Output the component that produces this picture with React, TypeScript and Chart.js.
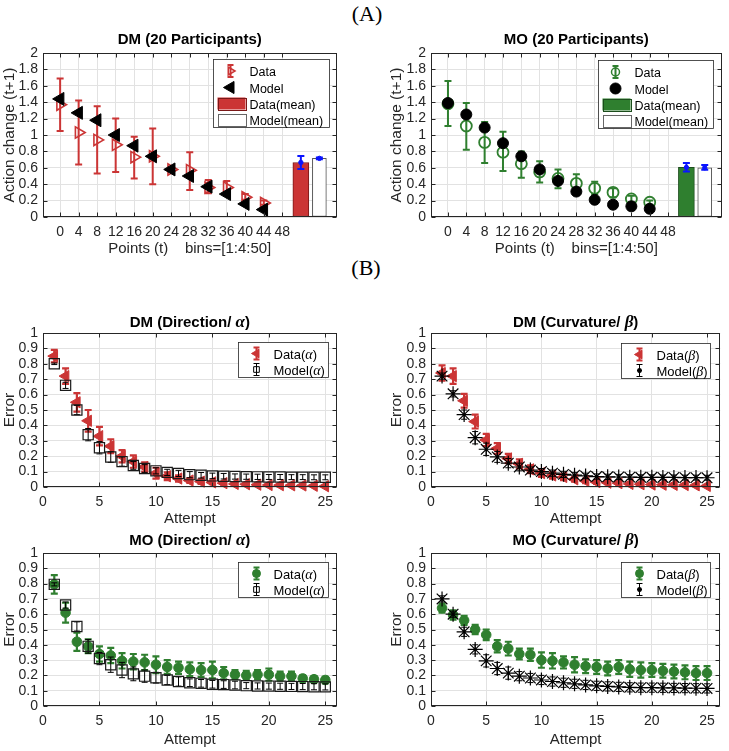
import React, { useEffect, useRef } from 'react';
import { Chart, registerables } from 'chart.js';
Chart.register(...registerables);

const SANS = '"Liberation Sans", Arial, Helvetica, sans-serif';
const SERIF = '"Liberation Serif", "DejaVu Serif", serif';
const RED = '#cb3535';
const RED_DARK = '#7a1818';
const GREEN = '#2f7f2f';
const GREEN_DARK = '#1c4d1c';
const BLUE = '#0a14ff';
const INK = '#262626';
const GRID = '#e2e2e2';

// ---------------- Panel (A) data ----------------
const binTicks = [0, 4, 8, 12, 16, 20, 24, 28, 32, 36, 40, 44, 48];
const binCenters = [0, 4, 8, 12, 16, 20, 24, 28, 32, 36, 40, 44];
const actionTicks = [0, 0.2, 0.4, 0.6, 0.8, 1, 1.2, 1.4, 1.6, 1.8, 2];
const meanPos = [52, 56];

const dmActionData = [1.37, 1.03, 0.94, 0.88, 0.73, 0.74, 0.58, 0.57, 0.36, 0.36, 0.24, 0.17];
const dmActionDataHi = [1.69, 1.42, 1.35, 1.2, 0.98, 1.08, 0.58, 0.79, 0.45, 0.44, 0.28, 0.2];
const dmActionDataLo = [1.05, 0.64, 0.53, 0.55, 0.47, 0.4, 0.58, 0.33, 0.29, 0.3, 0.21, 0.15];
const dmActionModel = [1.44, 1.27, 1.18, 1.0, 0.87, 0.74, 0.58, 0.5, 0.37, 0.28, 0.16, 0.09];
const dmMean = [0.665, 0.715];
const dmMeanLo = [0.585, 0.705];
const dmMeanHi = [0.745, 0.725];

const moActionData = [1.38, 1.11, 0.91, 0.79, 0.65, 0.55, 0.47, 0.41, 0.35, 0.3, 0.22, 0.18];
const moActionDataHi = [1.66, 1.39, 1.16, 1.04, 0.8, 0.68, 0.58, 0.52, 0.43, 0.35, 0.26, 0.2];
const moActionDataLo = [1.11, 0.82, 0.66, 0.56, 0.48, 0.42, 0.35, 0.32, 0.28, 0.24, 0.18, 0.15];
const moActionModel = [1.39, 1.25, 1.09, 0.9, 0.74, 0.58, 0.44, 0.31, 0.21, 0.15, 0.13, 0.1];
const moMean = [0.605, 0.6];
const moMeanLo = [0.555, 0.575];
const moMeanHi = [0.66, 0.635];

// ---------------- Panel (B) data ----------------
const attempts = [1, 2, 3, 4, 5, 6, 7, 8, 9, 10, 11, 12, 13, 14, 15, 16, 17, 18, 19, 20, 21, 22, 23, 24, 25];
const attemptTicks = [0, 5, 10, 15, 20, 25];
const errorTicks = [0, 0.1, 0.2, 0.3, 0.4, 0.5, 0.6, 0.7, 0.8, 0.9, 1];

const dmAlphaData = [0.85, 0.72, 0.55, 0.43, 0.33, 0.265, 0.2, 0.165, 0.13, 0.09, 0.07, 0.055, 0.042, 0.035, 0.03, 0.025, 0.02, 0.018, 0.015, 0.013, 0.012, 0.011, 0.01, 0.008, 0.005];
const dmAlphaDataErr = [0.04, 0.05, 0.06, 0.07, 0.06, 0.045, 0.04, 0.04, 0.03, 0.035, 0.025, 0.02, 0.015, 0.015, 0.012, 0.01, 0.01, 0.008, 0.008, 0.007, 0.006, 0.006, 0.005, 0.005, 0.004];
const dmAlphaModel = [0.8, 0.66, 0.5, 0.34, 0.255, 0.195, 0.165, 0.14, 0.12, 0.105, 0.095, 0.088, 0.08, 0.076, 0.072, 0.07, 0.068, 0.067, 0.066, 0.065, 0.065, 0.064, 0.064, 0.063, 0.063];
const dmAlphaModelErr = [0.005, 0.02, 0.03, 0.04, 0.04, 0.035, 0.03, 0.025, 0.025, 0.02, 0.02, 0.02, 0.02, 0.018, 0.018, 0.018, 0.017, 0.017, 0.017, 0.016, 0.016, 0.016, 0.016, 0.016, 0.016];

const dmBetaData = [0.74, 0.72, 0.56, 0.425, 0.305, 0.25, 0.185, 0.15, 0.115, 0.09, 0.075, 0.065, 0.05, 0.04, 0.032, 0.028, 0.025, 0.02, 0.018, 0.016, 0.015, 0.014, 0.013, 0.011, 0.007];
const dmBetaDataErr = [0.05, 0.05, 0.045, 0.045, 0.04, 0.035, 0.03, 0.03, 0.025, 0.025, 0.02, 0.02, 0.015, 0.015, 0.012, 0.01, 0.01, 0.008, 0.008, 0.007, 0.007, 0.006, 0.006, 0.005, 0.005];
const dmBetaModel = [0.72, 0.605, 0.47, 0.32, 0.245, 0.195, 0.155, 0.13, 0.11, 0.1, 0.09, 0.082, 0.077, 0.072, 0.068, 0.066, 0.065, 0.064, 0.063, 0.063, 0.062, 0.062, 0.061, 0.061, 0.06];
const dmBetaModelErr = [0.02, 0.02, 0.03, 0.04, 0.04, 0.035, 0.03, 0.025, 0.02, 0.02, 0.02, 0.02, 0.018, 0.018, 0.017, 0.017, 0.017, 0.016, 0.016, 0.016, 0.016, 0.016, 0.016, 0.016, 0.016];

const moAlphaData = [0.795, 0.61, 0.42, 0.39, 0.34, 0.33, 0.295, 0.29, 0.285, 0.27, 0.255, 0.25, 0.24, 0.235, 0.235, 0.215, 0.205, 0.2, 0.205, 0.205, 0.195, 0.195, 0.18, 0.175, 0.17];
const moAlphaDataErr = [0.06, 0.065, 0.06, 0.045, 0.05, 0.05, 0.05, 0.05, 0.05, 0.055, 0.045, 0.04, 0.045, 0.045, 0.055, 0.04, 0.03, 0.03, 0.03, 0.04, 0.03, 0.03, 0.02, 0.02, 0.02];
const moAlphaModel = [0.795, 0.66, 0.52, 0.39, 0.31, 0.27, 0.235, 0.21, 0.195, 0.185, 0.17, 0.16, 0.152, 0.148, 0.142, 0.14, 0.137, 0.133, 0.131, 0.13, 0.129, 0.128, 0.127, 0.126, 0.125];
const moAlphaModelErr = [0.01, 0.02, 0.03, 0.045, 0.04, 0.05, 0.05, 0.045, 0.04, 0.035, 0.03, 0.03, 0.025, 0.025, 0.025, 0.025, 0.025, 0.02, 0.02, 0.02, 0.02, 0.02, 0.02, 0.02, 0.02];

const moBetaData = [0.64, 0.595, 0.56, 0.5, 0.465, 0.39, 0.375, 0.34, 0.335, 0.3, 0.295, 0.285, 0.27, 0.26, 0.255, 0.245, 0.255, 0.24, 0.235, 0.235, 0.23, 0.225, 0.22, 0.215, 0.215];
const moBetaDataErr = [0.03, 0.03, 0.03, 0.03, 0.035, 0.04, 0.045, 0.035, 0.04, 0.05, 0.05, 0.04, 0.05, 0.045, 0.045, 0.045, 0.045, 0.05, 0.05, 0.045, 0.045, 0.045, 0.045, 0.045, 0.045];
const moBetaModel = [0.7, 0.6, 0.485, 0.37, 0.295, 0.245, 0.215, 0.195, 0.183, 0.17, 0.16, 0.152, 0.145, 0.138, 0.132, 0.128, 0.125, 0.122, 0.12, 0.12, 0.119, 0.118, 0.117, 0.116, 0.115];
const moBetaModelErr = [0.02, 0.02, 0.03, 0.03, 0.04, 0.04, 0.04, 0.03, 0.03, 0.03, 0.03, 0.03, 0.03, 0.03, 0.03, 0.03, 0.03, 0.03, 0.03, 0.03, 0.03, 0.03, 0.03, 0.03, 0.03];

// ---------------- helpers ----------------
type Seg = { t: string; f: string };

const pts = (xs: number[], ys: number[]) => xs.map((x, i) => ({ x, y: ys[i] }));
const minus = (ys: number[], es: number[]) => ys.map((y, i) => y - es[i]);
const plus = (ys: number[], es: number[]) => ys.map((y, i) => y + es[i]);
const fmt = (v: number) => String(Math.round(v * 10) / 10);

function drawSegs(ctx: CanvasRenderingContext2D, segs: Seg[], x: number, cy: number, align: 'center' | 'left') {
  let total = 0;
  const widths = segs.map((s) => {
    ctx.font = s.f;
    const w = ctx.measureText(s.t).width;
    total += w;
    return w;
  });
  let cx = align === 'center' ? x - total / 2 : x;
  ctx.textAlign = 'left';
  ctx.textBaseline = 'alphabetic';
  segs.forEach((s, i) => {
    ctx.font = s.f;
    ctx.fillText(s.t, cx, cy + 5);
    cx += widths[i];
  });
}

function marker(ctx: CanvasRenderingContext2D, shape: string, x: number, y: number, r: number, stroke: string, fill: string | null, lw: number) {
  ctx.save();
  ctx.lineWidth = lw;
  ctx.strokeStyle = stroke;
  ctx.beginPath();
  if (shape === 'circle') {
    ctx.arc(x, y, r, 0, Math.PI * 2);
  } else if (shape === 'triR' || shape === 'triL') {
    const d = shape === 'triR' ? 1 : -1;
    ctx.moveTo(x + d * r, y);
    ctx.lineTo(x - (d * r) / 2, y - r * 0.866);
    ctx.lineTo(x - (d * r) / 2, y + r * 0.866);
    ctx.closePath();
  } else if (shape === 'square') {
    const s = r * Math.SQRT1_2;
    ctx.rect(x - s, y - s, 2 * s, 2 * s);
  } else if (shape === 'star') {
    const s = r * Math.SQRT1_2;
    ctx.moveTo(x - r, y); ctx.lineTo(x + r, y);
    ctx.moveTo(x, y - r); ctx.lineTo(x, y + r);
    ctx.moveTo(x - s, y - s); ctx.lineTo(x + s, y + s);
    ctx.moveTo(x - s, y + s); ctx.lineTo(x + s, y - s);
  }
  if (fill && shape !== 'star') {
    ctx.fillStyle = fill;
    ctx.fill();
  }
  ctx.stroke();
  ctx.restore();
}

function errbar(ctx: CanvasRenderingContext2D, x: number, y1: number, y2: number, cap: number, color: string, lw: number) {
  ctx.save();
  ctx.strokeStyle = color;
  ctx.lineWidth = lw;
  ctx.beginPath();
  ctx.moveTo(x, y1); ctx.lineTo(x, y2);
  ctx.moveTo(x - cap, y1); ctx.lineTo(x + cap, y1);
  ctx.moveTo(x - cap, y2); ctx.lineTo(x + cap, y2);
  ctx.stroke();
  ctx.restore();
}

function drawDatasetErrors(chart: any, index: number) {
  const ds = chart.data.datasets[index];
  if (!ds.errLo) return;
  const xs = chart.scales.x;
  const ys = chart.scales.y;
  const ctx = chart.ctx;
  ds.data.forEach((p: any, i: number) => {
    const px = xs.getPixelForValue(p.x);
    const lo = ys.getPixelForValue(ds.errLo[i]);
    const hi = ys.getPixelForValue(ds.errHi[i]);
    errbar(ctx, px, lo, hi, ds.errCap, ds.errColor, ds.errWidth);
    if (ds.errDot) marker(ctx, 'circle', px, ys.getPixelForValue(p.y), 2.2, ds.errColor, ds.errColor, 1);
  });
}

function drawIcon(ctx: CanvasRenderingContext2D, ic: any, x: number, y: number, boxLeft: number) {
  if (ic.kind === 'rect') {
    ctx.fillStyle = ic.fill;
    ctx.fillRect(boxLeft + 4, y - 6, 28, 12);
    ctx.strokeStyle = ic.stroke;
    ctx.lineWidth = 1;
    ctx.strokeRect(Math.round(boxLeft + 4) + 0.5, Math.round(y - 6) + 0.5, 28, 12);
    return;
  }
  if (ic.err) errbar(ctx, x, y - ic.err, y + ic.err, ic.cap, ic.errColor, ic.errWidth);
  marker(ctx, ic.shape, x, y, ic.r, ic.stroke, ic.fill, ic.lw);
}

const matlabPlugin = {
  id: 'matlab',
  beforeDatasetDraw(chart: any, args: any) {
    const ds = chart.data.datasets[args.index];
    if (ds.errLo && !ds.errAfter) drawDatasetErrors(chart, args.index);
  },
  afterDatasetDraw(chart: any, args: any) {
    const ds = chart.data.datasets[args.index];
    if (ds.errLo && ds.errAfter) drawDatasetErrors(chart, args.index);
  },
  afterDraw(chart: any) {
    const o = chart.options.plugins.matlab;
    const ctx: CanvasRenderingContext2D = chart.ctx;
    const ca = chart.chartArea;
    const xs = chart.scales.x;
    const ys = chart.scales.y;
    ctx.save();
    const L = Math.round(ca.left) + 0.5;
    const R = Math.round(ca.right) - 0.5;
    const T = Math.round(ca.top) + 0.5;
    const B = Math.round(ca.bottom) - 0.5;
    ctx.strokeStyle = INK;
    ctx.lineWidth = 1;
    ctx.strokeRect(L, T, R - L, B - T);
    ctx.beginPath();
    for (const v of o.xTicks) {
      const px = Math.round(xs.getPixelForValue(v)) + 0.5;
      ctx.moveTo(px, B); ctx.lineTo(px, B - 4);
      ctx.moveTo(px, T); ctx.lineTo(px, T + 4);
    }
    for (const v of o.yTicks) {
      const py = Math.round(ys.getPixelForValue(v)) + 0.5;
      ctx.moveTo(L, py); ctx.lineTo(L + 4, py);
      ctx.moveTo(R, py); ctx.lineTo(R - 4, py);
    }
    ctx.stroke();

    const lg = o.legend;
    const bx = Math.round(ca.right - lg.inset[0] - lg.w) + 0.5;
    const by = Math.round(ca.top + lg.inset[1]) + 0.5;
    ctx.fillStyle = '#ffffff';
    ctx.fillRect(bx, by, lg.w, lg.h);
    ctx.strokeStyle = INK;
    ctx.lineWidth = 0.8;
    ctx.strokeRect(bx, by, lg.w, lg.h);
    lg.rows.forEach((row: any) => {
      const y = by + row.dy;
      drawIcon(ctx, row.icon, bx + lg.iconX, y, bx);
      ctx.fillStyle = '#000';
      drawSegs(ctx, row.segs, bx + lg.textX, y, 'left');
    });

    ctx.fillStyle = '#000';
    drawSegs(ctx, o.title, (ca.left + ca.right) / 2, ca.top - o.titleDy, 'center');
    ctx.restore();
  },
};

function buildConfig(s: any): any {
  return {
    type: 'scatter',
    data: { datasets: s.datasets },
    plugins: [matlabPlugin],
    options: {
      responsive: false,
      maintainAspectRatio: false,
      animation: false,
      devicePixelRatio: 1,
      events: [],
      layout: { padding: { top: 26, right: s.padRight, left: 0, bottom: 0 } },
      plugins: {
        legend: { display: false },
        tooltip: { enabled: false },
        title: { display: false },
        matlab: { title: s.title, titleDy: s.titleDy, legend: s.legend, xTicks: s.xTicks, yTicks: s.yTicks },
      },
      scales: {
        x: {
          type: 'linear',
          min: s.xMin,
          max: s.xMax,
          offset: false,
          afterBuildTicks: (sc: any) => { sc.ticks = s.xTicks.map((v: number) => ({ value: v })); },
          afterFit: (sc: any) => { sc.height = s.xH; },
          grid: { color: GRID, lineWidth: 1, drawTicks: false, offset: false },
          border: { display: false },
          ticks: { color: INK, font: { family: SANS, size: 14 }, padding: 7, autoSkip: false, maxRotation: 0, minRotation: 0, callback: (v: number) => String(v) },
          title: { display: true, text: s.xTitle, color: INK, font: { family: SANS, size: 15 }, padding: { top: 0, bottom: 0 } },
        },
        y: {
          type: 'linear',
          min: 0,
          max: s.yMax,
          afterBuildTicks: (sc: any) => { sc.ticks = s.yTicks.map((v: number) => ({ value: v })); },
          afterFit: (sc: any) => { sc.width = s.yW; },
          grid: { color: GRID, lineWidth: 1, drawTicks: false },
          border: { display: false },
          ticks: { color: INK, font: { family: SANS, size: 14 }, padding: 5, autoSkip: false, callback: (v: number) => fmt(v) },
          title: { display: true, text: s.yTitle, color: INK, font: { family: SANS, size: 15.5 }, padding: { top: 0, bottom: 0 } },
        },
      },
    },
  };
}

function Panel({ spec }: { spec: any }) {
  const ref = useRef<HTMLCanvasElement>(null);
  useEffect(() => {
    const chart = new Chart(ref.current as HTMLCanvasElement, buildConfig(spec));
    return () => chart.destroy();
  }, []);
  return (
    <canvas
      ref={ref}
      width={spec.w}
      height={spec.h}
      style={{ position: 'absolute', left: spec.left, top: spec.top, width: spec.w, height: spec.h }}
    />
  );
}

// ---------------- specs ----------------
const bold14 = `bold 15px ${SANS}`;
const greekTitle = `italic bold 17px ${SERIF}`;
const lgA = `12.5px ${SANS}`;
const lgB = `13px ${SANS}`;
const greekLg = `italic 14px ${SERIF}`;

const colL = { left: 0, w: 345, yW: 43, padRight: 8 };
const colR = { left: 387, w: 342, yW: 44, padRight: 2 };
const rowA = { top: 27, h: 231, xH: 41, titleDy: 14 };
const rowB1 = { top: 307, h: 221, xH: 41, titleDy: 11 };
const rowB2 = { top: 527, h: 222, xH: 43, titleDy: 13 };

const axisA = { xMin: -3.7, xMax: 59.7, xTicks: binTicks, yMax: 2, yTicks: actionTicks, xTitle: 'Points (t)    bins=[1:4:50]', yTitle: 'Action change (t+1)' };
const axisB = { xMin: 0, xMax: 26, xTicks: attemptTicks, yMax: 1, yTicks: errorTicks, xTitle: 'Attempt', yTitle: 'Error' };

function legendA(dataIcon: any, modelIcon: any, meanFill: string, meanStroke: string, inset: number[], w: number) {
  return {
    inset, w, h: 68, iconX: 17, textX: 36,
    rows: [
      { dy: 11.5, icon: dataIcon, segs: [{ t: 'Data', f: lgA }] },
      { dy: 28, icon: modelIcon, segs: [{ t: 'Model', f: lgA }] },
      { dy: 44, icon: { kind: 'rect', fill: meanFill, stroke: meanStroke }, segs: [{ t: 'Data(mean)', f: lgA }] },
      { dy: 60, icon: { kind: 'rect', fill: '#ffffff', stroke: '#666666' }, segs: [{ t: 'Model(mean)', f: lgA }] },
    ],
  };
}

function legendB(greek: string, dataIcon: any, modelIcon: any, inset: number[], w: number) {
  return {
    inset, w, h: 35, iconX: 18, textX: 35,
    rows: [
      { dy: 11, icon: dataIcon, segs: [{ t: 'Data(', f: lgB }, { t: greek, f: greekLg }, { t: ')', f: lgB }] },
      { dy: 27, icon: modelIcon, segs: [{ t: 'Model(', f: lgB }, { t: greek, f: greekLg }, { t: ')', f: lgB }] },
    ],
  };
}

function meanBars(vals: number[], lo: number[], hi: number[], fill: string, stroke: string) {
  return [
    {
      type: 'bar', label: 'Data(mean)', data: [{ x: meanPos[0], y: vals[0] }], backgroundColor: fill, borderColor: stroke,
      borderWidth: 1, borderSkipped: false, barThickness: 16, grouped: false, order: 3,
      errLo: [lo[0]], errHi: [hi[0]], errAfter: true, errColor: BLUE, errWidth: 2, errCap: 3.5, errDot: true,
    },
    {
      type: 'bar', label: 'Model(mean)', data: [{ x: meanPos[1], y: vals[1] }], backgroundColor: '#ffffff', borderColor: '#555555',
      borderWidth: 1, borderSkipped: false, barThickness: 14, grouped: false, order: 3,
      errLo: [lo[1]], errHi: [hi[1]], errAfter: true, errColor: BLUE, errWidth: 2, errCap: 3.5, errDot: true,
    },
  ];
}

const specs: any[] = [
  {
    ...colL, ...rowA, ...axisA,
    title: [{ t: 'DM (20 Participants)', f: bold14 }],
    legend: legendA(
      { shape: 'triR', r: 4.5, stroke: RED, fill: null, lw: 1.5, err: 6, cap: 3, errColor: RED, errWidth: 2 },
      { shape: 'triL', r: 7, stroke: '#000', fill: '#000', lw: 1 },
      RED, RED_DARK, [8, 6], 116),
    datasets: [
      { label: 'Model', data: pts(binCenters, dmActionModel), pointStyle: 'triangle', pointRotation: 270, pointRadius: 7.5, pointBackgroundColor: '#000', pointBorderColor: '#000', pointBorderWidth: 1, order: 1, clip: false },
      { label: 'Data', data: pts(binCenters, dmActionData), pointStyle: 'triangle', pointRotation: 90, pointRadius: 6.5, pointBackgroundColor: 'rgba(255,255,255,0)', pointBorderColor: RED, pointBorderWidth: 1.6, order: 2, clip: false, errLo: dmActionDataLo, errHi: dmActionDataHi, errColor: RED, errWidth: 2, errCap: 3.5 },
      ...meanBars(dmMean, dmMeanLo, dmMeanHi, RED, RED_DARK),
    ],
  },
  {
    ...colR, ...rowA, ...axisA,
    title: [{ t: 'MO (20 Participants)', f: bold14 }],
    legend: legendA(
      { shape: 'circle', r: 4, stroke: GREEN, fill: null, lw: 1.5, err: 6, cap: 3, errColor: GREEN, errWidth: 2 },
      { shape: 'circle', r: 5.5, stroke: '#000', fill: '#000', lw: 1 },
      GREEN, GREEN_DARK, [9, 7], 115),
    datasets: [
      { label: 'Model', data: pts(binCenters, moActionModel), pointStyle: 'circle', pointRadius: 5.5, pointBackgroundColor: '#000', pointBorderColor: '#000', pointBorderWidth: 1, order: 1, clip: false },
      { label: 'Data', data: pts(binCenters, moActionData), pointStyle: 'circle', pointRadius: 5.5, pointBackgroundColor: 'rgba(255,255,255,0)', pointBorderColor: GREEN, pointBorderWidth: 1.8, order: 2, clip: false, errLo: moActionDataLo, errHi: moActionDataHi, errColor: GREEN, errWidth: 2, errCap: 3.5 },
      ...meanBars(moMean, moMeanLo, moMeanHi, GREEN, GREEN_DARK),
    ],
  },
  {
    ...colL, ...rowB1, ...axisB,
    title: [{ t: 'DM (Direction/ ', f: bold14 }, { t: 'α', f: greekTitle }, { t: ')', f: bold14 }],
    legend: legendB('α',
      { shape: 'triL', r: 5, stroke: RED, fill: RED, lw: 1, err: 6, cap: 3, errColor: RED, errWidth: 2 },
      { shape: 'square', r: 4, stroke: '#000', fill: null, lw: 1, err: 6, cap: 3, errColor: '#000', errWidth: 1 },
      [9, 9], 90),
    datasets: [
      { label: 'Model(α)', data: pts(attempts, dmAlphaModel), pointStyle: 'rect', pointRadius: 7.2, pointBackgroundColor: 'rgba(255,255,255,0)', pointBorderColor: '#1a1a1a', pointBorderWidth: 1.2, order: 1, clip: false, errLo: minus(dmAlphaModel, dmAlphaModelErr), errHi: plus(dmAlphaModel, dmAlphaModelErr), errColor: '#000', errWidth: 1, errCap: 3 },
      { label: 'Data(α)', data: pts(attempts, dmAlphaData), pointStyle: 'triangle', pointRotation: 270, pointRadius: 6.5, pointBackgroundColor: RED, pointBorderColor: RED, pointBorderWidth: 1, order: 2, clip: false, errLo: minus(dmAlphaData, dmAlphaDataErr), errHi: plus(dmAlphaData, dmAlphaDataErr), errColor: RED, errWidth: 2.2, errCap: 3.5 },
    ],
  },
  {
    ...colR, ...rowB1, ...axisB, xMax: 26.2,
    title: [{ t: 'DM (Curvature/ ', f: bold14 }, { t: 'β', f: greekTitle }, { t: ')', f: bold14 }],
    legend: legendB('β',
      { shape: 'triL', r: 5, stroke: RED, fill: RED, lw: 1, err: 6, cap: 3, errColor: RED, errWidth: 2 },
      { shape: 'star', r: 2.5, stroke: '#000', fill: null, lw: 1.5, err: 6, cap: 3, errColor: '#000', errWidth: 1 },
      [10, 10], 89),
    datasets: [
      { label: 'Model(β)', data: pts(attempts, dmBetaModel), pointStyle: 'star', pointRadius: 7.5, pointBorderColor: '#000', pointBackgroundColor: '#000', pointBorderWidth: 1.2, order: 1, clip: false, errLo: minus(dmBetaModel, dmBetaModelErr), errHi: plus(dmBetaModel, dmBetaModelErr), errColor: '#000', errWidth: 1, errCap: 3 },
      { label: 'Data(β)', data: pts(attempts, dmBetaData), pointStyle: 'triangle', pointRotation: 270, pointRadius: 6.5, pointBackgroundColor: RED, pointBorderColor: RED, pointBorderWidth: 1, order: 2, clip: false, errLo: minus(dmBetaData, dmBetaDataErr), errHi: plus(dmBetaData, dmBetaDataErr), errColor: RED, errWidth: 2.2, errCap: 3.5 },
    ],
  },
  {
    ...colL, ...rowB2, ...axisB,
    title: [{ t: 'MO (Direction/ ', f: bold14 }, { t: 'α', f: greekTitle }, { t: ')', f: bold14 }],
    legend: legendB('α',
      { shape: 'circle', r: 4, stroke: GREEN, fill: GREEN, lw: 1, err: 6, cap: 3, errColor: GREEN, errWidth: 2 },
      { shape: 'square', r: 4, stroke: '#000', fill: null, lw: 1, err: 6, cap: 3, errColor: '#000', errWidth: 1 },
      [9, 9], 90),
    datasets: [
      { label: 'Model(α)', data: pts(attempts, moAlphaModel), pointStyle: 'rect', pointRadius: 7.2, pointBackgroundColor: 'rgba(255,255,255,0)', pointBorderColor: '#1a1a1a', pointBorderWidth: 1.2, order: 1, clip: false, errLo: minus(moAlphaModel, moAlphaModelErr), errHi: plus(moAlphaModel, moAlphaModelErr), errColor: '#000', errWidth: 1, errCap: 3 },
      { label: 'Data(α)', data: pts(attempts, moAlphaData), pointStyle: 'circle', pointRadius: 4.8, pointBackgroundColor: GREEN, pointBorderColor: GREEN, pointBorderWidth: 1, order: 2, clip: false, errLo: minus(moAlphaData, moAlphaDataErr), errHi: plus(moAlphaData, moAlphaDataErr), errColor: GREEN, errWidth: 2.2, errCap: 3.5 },
    ],
  },
  {
    ...colR, ...rowB2, ...axisB, xMax: 26.2,
    title: [{ t: 'MO (Curvature/ ', f: bold14 }, { t: 'β', f: greekTitle }, { t: ')', f: bold14 }],
    legend: legendB('β',
      { shape: 'circle', r: 4, stroke: GREEN, fill: GREEN, lw: 1, err: 6, cap: 3, errColor: GREEN, errWidth: 2 },
      { shape: 'star', r: 2.5, stroke: '#000', fill: null, lw: 1.5, err: 6, cap: 3, errColor: '#000', errWidth: 1 },
      [10, 9], 89),
    datasets: [
      { label: 'Model(β)', data: pts(attempts, moBetaModel), pointStyle: 'star', pointRadius: 7.5, pointBorderColor: '#000', pointBackgroundColor: '#000', pointBorderWidth: 1.2, order: 1, clip: false, errLo: minus(moBetaModel, moBetaModelErr), errHi: plus(moBetaModel, moBetaModelErr), errColor: '#000', errWidth: 1, errCap: 3 },
      { label: 'Data(β)', data: pts(attempts, moBetaData), pointStyle: 'circle', pointRadius: 4.8, pointBackgroundColor: GREEN, pointBorderColor: GREEN, pointBorderWidth: 1, order: 2, clip: false, errLo: minus(moBetaData, moBetaDataErr), errHi: plus(moBetaData, moBetaDataErr), errColor: GREEN, errWidth: 2.2, errCap: 3.5 },
    ],
  },
];

const labelStyle: React.CSSProperties = {
  position: 'absolute',
  transform: 'translate(-50%, -50%)',
  fontFamily: SERIF,
  fontSize: 22,
  color: '#000',
  lineHeight: 1,
  whiteSpace: 'nowrap',
};

export default function App() {
  return (
    <div style={{ position: 'absolute', left: 0, top: 0, width: 729, height: 751, background: '#ffffff', overflow: 'hidden' }}>
      <div style={{ ...labelStyle, left: 367, top: 14 }}>(A)</div>
      <div style={{ ...labelStyle, left: 366, top: 268 }}>(B)</div>
      {specs.map((s, i) => (
        <Panel key={i} spec={s} />
      ))}
    </div>
  );
}
